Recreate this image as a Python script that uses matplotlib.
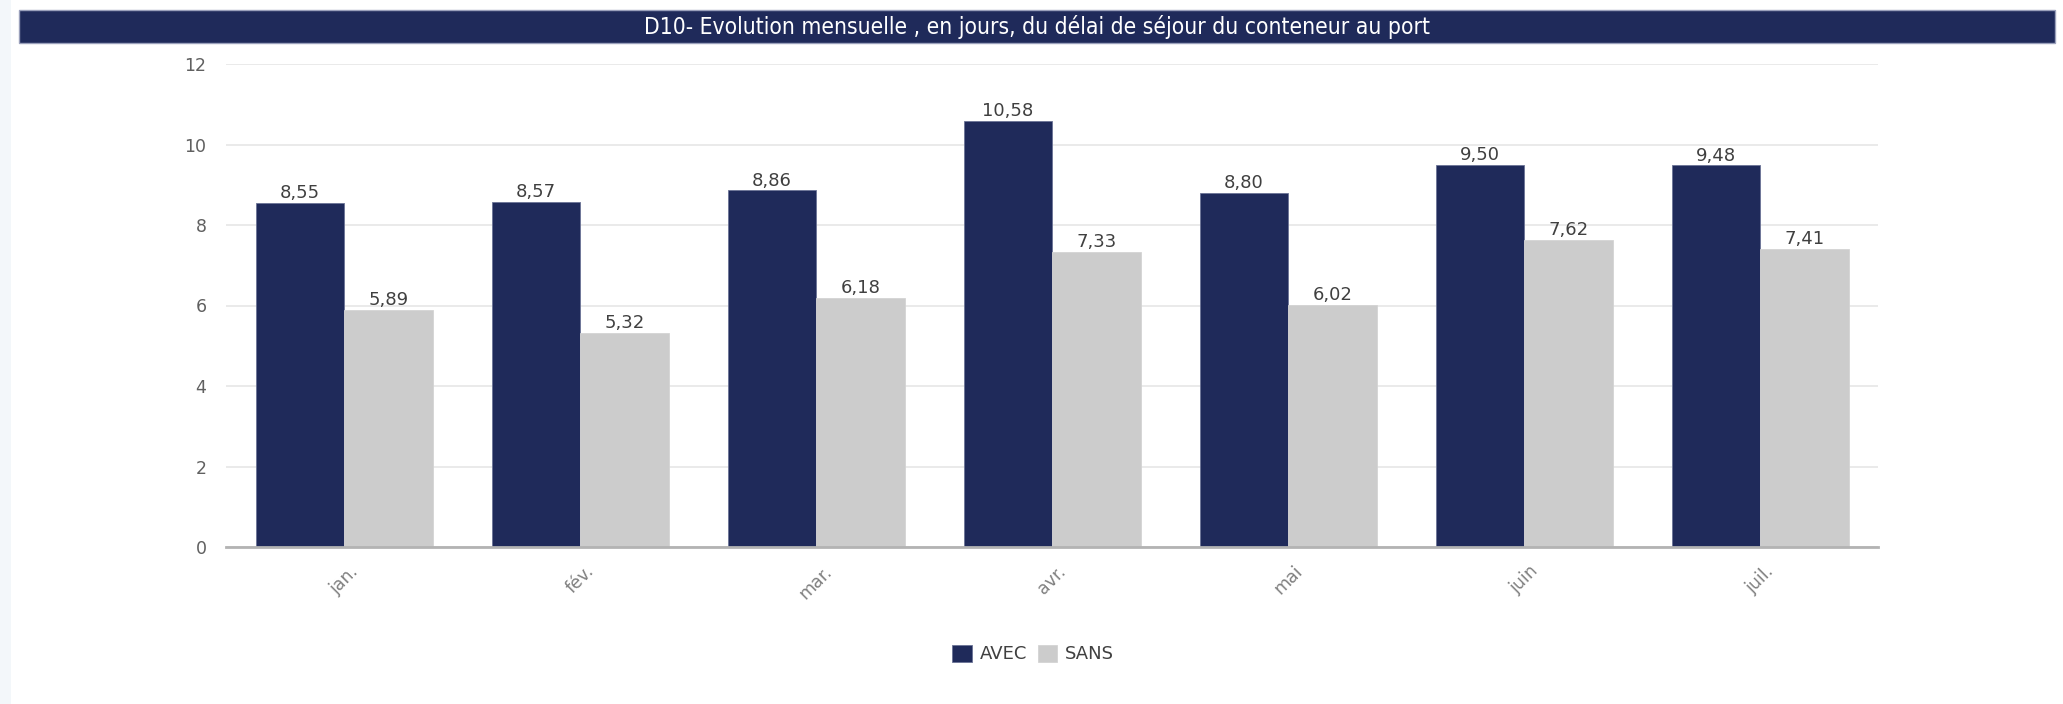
import matplotlib
matplotlib.use('Agg')
import matplotlib.pyplot as plt
from matplotlib.patches import Rectangle
import numpy as np

# Délai de séjour du conteneur au port (jours)
mois = ['jan.', 'fév.', 'mar.', 'avr.', 'mai', 'juin', 'juil.']
avec = [8.55, 8.57, 8.86, 10.58, 8.80, 9.50, 9.48]
sans = [5.89, 5.32, 6.18, 7.33, 6.02, 7.62, 7.41]
series_labels = ['AVEC', 'SANS']
titre = 'D10- Evolution mensuelle , en jours, du délai de séjour du conteneur au port'

NAVY = '#1f2a5a'
GREY = '#cccccc'

W, H = 2063, 704
fig = plt.figure(figsize=(W / 100, H / 100), dpi=100)
fig.patch.set_facecolor('white')

# pale strip on the left edge
fig.patches.append(Rectangle((0, 0), 11 / W, 1, transform=fig.transFigure,
                             facecolor='#f3f7fa', edgecolor='none', zorder=0))
# title banner
fig.patches.append(Rectangle((19 / W, 1 - 43 / H), (2055 - 19) / W, 33 / H,
                             transform=fig.transFigure, facecolor=NAVY,
                             edgecolor='#9aa0bb', linewidth=1, zorder=1))
fig.text((19 + 2055) / 2 / W, 1 - 27 / H, titre, color='white',
         ha='center', va='center', fontsize=16.4, stretch='condensed',
         family=['DejaVu Sans'], zorder=2)

ax = fig.add_axes([226 / W, 1 - 547 / H, (1878 - 226) / W, (547 - 64) / H])

x = np.arange(len(mois))
width = 0.375
b1 = ax.bar(x - width / 2, avec, width, color=NAVY, edgecolor='#6b7396',
            linewidth=0.6, label=series_labels[0], zorder=3)
b2 = ax.bar(x + width / 2, sans, width, color=GREY, edgecolor='#d4d4d4',
            linewidth=0.6, label=series_labels[1], zorder=3)

for bars, vals in ((b1, avec), (b2, sans)):
    for rect, v in zip(bars, vals):
        ax.text(rect.get_x() + rect.get_width() / 2, v + 0.02,
                f'{v:.2f}'.replace('.', ','), ha='center', va='bottom',
                fontsize=13, color='#404040', zorder=4)

ax.set_xlim(-0.5, len(mois) - 0.5)
ax.set_ylim(0, 12)
ax.set_yticks(range(0, 13, 2))
ax.set_xticks(x)
ax.set_xticklabels(mois, rotation=45, ha='center', va='top')
ax.tick_params(axis='x', length=0, pad=11, labelsize=12.5, labelcolor='#808080')
ax.tick_params(axis='y', length=0, pad=14, labelsize=12.5, labelcolor='#606060')
ax.grid(True, axis='y', color='#e6e6e6', linewidth=1.2, zorder=0)
ax.set_axisbelow(True)
for side in ('left', 'right', 'top'):
    ax.spines[side].set_visible(False)
ax.spines['bottom'].set_color('#b3b3b3')
ax.spines['bottom'].set_linewidth(2)
ax.spines['bottom'].set_zorder(5)

fig.legend(handles=[b1, b2], labels=series_labels, loc='center',
           bbox_to_anchor=(1033 / W, 1 - 654 / H), ncol=2, frameon=False,
           fontsize=13, handlelength=1.1, handleheight=1.1,
           handletextpad=0.4, columnspacing=0.6, labelcolor='#404040')

fig.savefig('out.png', dpi=100)
